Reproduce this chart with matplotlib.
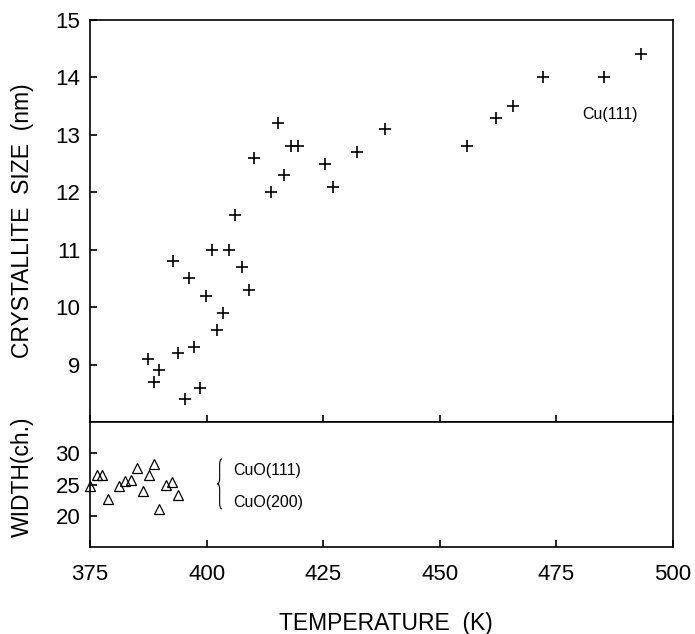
import matplotlib
matplotlib.use("Agg")
import matplotlib.pyplot as plt
from matplotlib.path import Path
from matplotlib.patches import PathPatch

plt.rcParams['font.family'] = ['Liberation Sans', 'DejaVu Sans']

# Cu(111) crystallite size vs temperature
temp_cu = [387.5, 388.7, 389.9, 392.7, 393.8, 395.3, 396.3, 397.4, 398.6, 399.8,
           401.2, 402.3, 403.6, 404.9, 406.0, 407.5, 409.0, 410.1, 413.9, 415.3,
           416.6, 418.2, 419.5, 425.4, 427.2, 432.3, 438.2, 455.8, 462.1, 465.8,
           472.1, 485.2, 493.2]
size_cu = [9.1, 8.7, 8.9, 10.8, 9.2, 8.4, 10.5, 9.3, 8.6, 10.2,
           11.0, 9.6, 9.9, 11.0, 11.6, 10.7, 10.3, 12.6, 12.0, 13.2,
           12.3, 12.8, 12.8, 12.5, 12.1, 12.7, 13.1, 12.8, 13.3, 13.5,
           14.0, 14.0, 14.4]

# CuO peak width (channels) vs temperature
temp_cuo = [375.0, 376.4, 377.6, 378.9, 381.2, 382.5, 383.8, 385.0, 386.4, 387.6,
            388.7, 389.9, 391.2, 392.5, 393.8]
width_cuo = [24.7, 26.6, 26.5, 22.7, 24.7, 25.6, 25.8, 27.6, 24.0, 26.5,
             28.3, 21.1, 24.9, 25.4, 23.4]

x_ticks = [375, 400, 425, 450, 475, 500]
y_ticks_top = [9, 10, 11, 12, 13, 14, 15]
y_ticks_bot = [20, 25, 30]

fig = plt.figure(figsize=(6.95, 6.34), dpi=100)
ax1 = fig.add_axes([0.1295, 0.3344, 0.8388, 0.6341])
ax2 = fig.add_axes([0.1295, 0.1372, 0.8388, 0.1972])

ax1.plot(temp_cu, size_cu, linestyle='none', marker='+', color='black',
         markersize=8, markeredgewidth=1.2)
ax2.plot(temp_cuo, width_cuo, linestyle='none', marker='^', color='black',
         markerfacecolor='none', markersize=7.5, markeredgewidth=0.9, clip_on=False)

for ax in (ax1, ax2):
    ax.set_xlim(375, 500)
    ax.set_xticks(x_ticks)
    for s in ax.spines.values():
        s.set_linewidth(1.2)
    ax.tick_params(direction='in', length=5, width=1.2, labelsize=16,
                   top=False, right=False)
    ax.tick_params(axis='y', pad=7)

ax1.set_ylim(8, 15)
ax1.set_yticks(y_ticks_top)
ax1.tick_params(axis='x', labelbottom=False)
ax1.set_ylabel("CRYSTALLITE  SIZE  (nm)", fontsize=16.5)
ax1.yaxis.set_label_coords(-0.096, 0.5)
ax1.text(480.6, 13.35, "Cu(111)", fontsize=11.5, va='center', ha='left')

ax2.set_ylim(15, 35)
ax2.set_yticks(y_ticks_bot)
ax2.tick_params(axis='x', pad=12)
ax2.set_ylabel("WIDTH(ch.)", fontsize=16.5)
ax2.yaxis.set_label_coords(-0.096, 0.56)
ax2.set_xlabel("TEMPERATURE  (K)", fontsize=16.5)
ax2.xaxis.set_label_coords(0.508, -0.52)

# brace grouping the two CuO reflections
x0, w, d = 402.8, 0.5, 0.9
ytop, ymid, ybot = 29.1, 25.1, 21.1
verts = [(x0 + w, ytop), (x0, ytop), (x0, ytop - d),
         (x0, ymid + d), (x0, ymid), (x0 - w, ymid),
         (x0, ymid), (x0, ymid - d),
         (x0, ybot + d), (x0, ybot), (x0 + w, ybot)]
codes = [Path.MOVETO, Path.CURVE3, Path.CURVE3,
         Path.LINETO, Path.CURVE3, Path.CURVE3,
         Path.CURVE3, Path.CURVE3,
         Path.LINETO, Path.CURVE3, Path.CURVE3]
ax2.add_patch(PathPatch(Path(verts, codes), facecolor='none', edgecolor='black', lw=0.8))
ax2.text(405.7, 27.2, "CuO(111)", fontsize=11.5, va='center', ha='left')
ax2.text(405.7, 22.2, "CuO(200)", fontsize=11.5, va='center', ha='left')

fig.savefig("out.png", dpi=100)
